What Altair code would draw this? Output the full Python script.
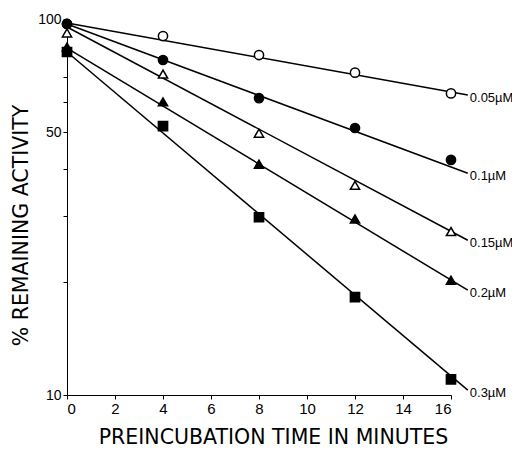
import altair as alt
import pandas as pd

# Data
times = [0, 4, 8, 12, 16]
conc_labels = ["0.05µM", "0.1µM", "0.15µM", "0.2µM", "0.3µM"]
act_005 = [97.0, 90.1, 80.2, 72.0, 63.4]
act_01 = [97.0, 77.8, 61.6, 51.3, 42.2]
act_015 = [91.8, 71.4, 49.7, 36.1, 27.2]
act_02 = [84.2, 60.2, 41.1, 29.4, 20.2]
act_03 = [81.7, 51.9, 29.7, 18.2, 11.0]
all_acts = [act_005, act_01, act_015, act_02, act_03]

# fitted lines (start at t=0, end at t=fit_end_t)
fit_start = [97.6, 97.0, 95.2, 83.7, 81.7]
fit_end = [62.8, 38.9, 25.8, 19.0, 10.3]
fit_end_t = 16.7

shapes = ["circle", "circle", "triangle-up", "triangle-up", "square"]
fills = ["white", "black", "white", "black", "black"]

pts = pd.DataFrame(
    [
        {"t": t, "act": v, "conc": c}
        for c, vals in zip(conc_labels, all_acts)
        for t, v in zip(times, vals)
    ]
)
fits = pd.DataFrame(
    [{"t": 0, "act": s, "conc": c} for c, s in zip(conc_labels, fit_start)]
    + [{"t": fit_end_t, "act": e, "conc": c} for c, e in zip(conc_labels, fit_end)]
)
labels = pd.DataFrame(
    [{"t": fit_end_t, "act": e, "conc": c} for c, e in zip(conc_labels, fit_end)]
)

FONT = "Liberation Sans"
TFONT = "DejaVu Sans"

x = alt.X(
    "t:Q",
    scale=alt.Scale(domain=[0, 16], nice=False, zero=False),
    axis=alt.Axis(
        values=[0, 2, 4, 6, 8, 10, 12, 14, 16],
        title="PREINCUBATION TIME IN MINUTES",
        titleFontSize=20.5,
        titleFontWeight="normal",
        titleFont=TFONT,
        titlePadding=11,
        titleX=206,
        labelFontSize=15,
        labelPadding=2,
        tickSize=4,
        grid=False,
    ),
)
y = alt.Y(
    "act:Q",
    scale=alt.Scale(type="log", domain=[10, 100], nice=False),
    axis=alt.Axis(
        values=[10, 20, 30, 40, 50, 60, 70, 100],
        labelExpr="datum.value == 10 || datum.value == 50 || datum.value == 100 ? format(datum.value, 'd') : ''",
        title="% REMAINING ACTIVITY",
        titleFontSize=20.5,
        titleFontWeight="normal",
        titleFont=TFONT,
        titlePadding=6,
        titleY=206,
        labelFontSize=14,
        labelPadding=2,
        tickSize=4,
        grid=False,
    ),
)

lines = (
    alt.Chart(fits)
    .mark_line(color="black", strokeWidth=1.5, clip=False)
    .encode(x=x, y=y, detail="conc:N")
)

points = (
    alt.Chart(pts)
    .mark_point(size=85, strokeWidth=1.5, opacity=1, filled=False, stroke="black")
    .encode(
        x=x,
        y=y,
        shape=alt.Shape("conc:N", scale=alt.Scale(domain=conc_labels, range=shapes), legend=None),
        fill=alt.Fill("conc:N", scale=alt.Scale(domain=conc_labels, range=fills), legend=None),
    )
)

texts = (
    alt.Chart(labels)
    .mark_text(align="left", baseline="middle", dx=2, dy=3, fontSize=13, font=FONT, color="black")
    .encode(x=x, y=y, text="conc:N")
)

chart = (
    alt.layer(lines, points, texts)
    .properties(
        width=384,
        height=376,
        autosize=alt.AutoSizeParams(type="none"),
        padding={"left": 59, "top": 11, "right": 61, "bottom": 54},
    )
    .configure_view(stroke=None)
    .configure_axis(
        domainColor="black",
        tickColor="black",
        labelColor="black",
        titleColor="black",
        labelFont=FONT,
        titleFont=TFONT,
        domainWidth=1,
        tickWidth=1,
    )
)

chart.save("out.html", embed_options={"renderer": "svg", "actions": False})
